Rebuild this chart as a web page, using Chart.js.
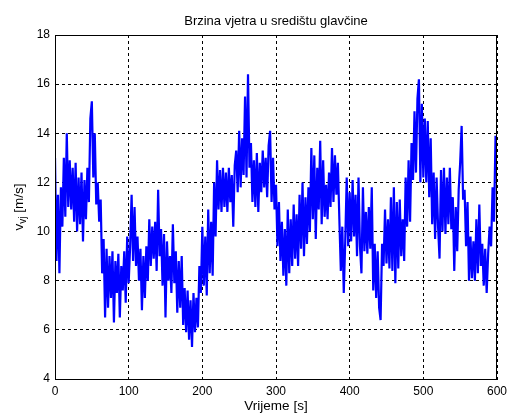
<!DOCTYPE html>
<html lang="hr">
<head>
    <meta charset="UTF-8">
    <title>Brzina vjetra u središtu glavčine</title>
    <script src="https://cdn.jsdelivr.net/npm/chart.js"></script>
    <style>
        body {
            margin: 0;
            padding: 0;
            background-color: #ffffff;
        }
        #okvir {
            width: 507px;
            height: 414px;
        }
    </style>
</head>
<body>

<div id="okvir">
    <canvas id="graf"></canvas>
</div>

<script>
    // vremenski korak uzorka [s]
    const korak = 2;

    // osi
    const xOznake = [0, 100, 200, 300, 400, 500, 600];
    const yOznake = [4, 6, 8, 10, 12, 14, 16, 18];

    // brzina vjetra [m/s], jedan uzorak svake 2 s (0 ... 600 s)
    const brzina = [
        13.0, 8.8, 11.5, 8.3, 11.8, 10.2, 13.0, 10.6, 14.0, 11.0,
        12.9, 10.9, 12.6, 10.4, 12.8, 10.0, 12.2, 10.3, 12.4, 9.6,
        12.1, 10.5, 12.6, 11.2, 14.6, 15.3, 12.2, 14.0, 11.1, 12.0,
        10.4, 11.3, 8.3, 9.7, 6.5, 9.3, 6.9, 9.0, 7.3, 9.2,
        6.3, 8.8, 7.5, 9.1, 6.5, 8.6, 7.6, 9.2, 7.1, 9.8,
        7.9, 9.4, 11.5, 8.8, 11.0, 8.6, 9.8, 8.0, 9.3, 6.8,
        9.0, 7.3, 9.4, 8.0, 10.5, 8.6, 10.2, 8.9, 10.4, 8.4,
        11.7, 9.0, 10.1, 7.8, 9.9, 6.5, 9.6, 8.0, 9.0, 7.5,
        10.3, 7.9, 9.2, 6.7, 8.8, 6.9, 9.0, 6.2, 7.7, 5.9,
        7.6, 5.6, 7.2, 5.3, 7.5, 5.9, 7.3, 6.1, 8.6, 7.5,
        10.2, 7.8, 9.8, 7.4, 10.9, 8.3, 10.4, 8.2, 12.0, 9.8,
        12.9, 10.9, 12.5, 10.8, 12.6, 11.0, 12.4, 10.8, 12.6, 11.2,
        12.3, 10.2, 12.7, 13.3, 11.6, 14.1, 11.8, 13.8, 12.3, 15.5,
        12.2, 16.4, 12.6, 13.6, 11.2, 12.9, 11.0, 13.2, 10.8, 12.8,
        11.6, 13.3, 11.8, 13.0, 11.4, 13.5, 14.1, 11.2, 13.0, 10.9,
        11.9, 9.4, 11.2, 8.8, 10.4, 8.2, 10.1, 7.8, 10.9, 8.3,
        10.5, 8.6, 11.1, 8.9, 10.7, 8.6, 11.5, 9.3, 12.0, 9.0,
        11.4, 9.5, 11.8, 10.0, 13.4, 10.5, 13.1, 9.7, 12.6, 10.9,
        13.7, 10.3, 12.9, 10.6, 11.9, 10.5, 12.4, 11.0, 13.4, 11.2,
        13.1, 11.5, 12.8, 10.5, 8.4, 10.2, 7.5, 9.6, 12.2, 9.4,
        11.6, 9.6, 12.1, 9.8, 11.5, 9.0, 12.2, 9.4, 8.3, 11.8,
        9.2, 10.8, 9.1, 11.0, 9.3, 11.8, 7.6, 9.5, 7.3, 9.2,
        6.9, 6.4, 9.5, 8.6, 10.9, 8.7, 10.5, 8.5, 11.4, 8.4,
        11.8, 7.9, 11.2, 8.5, 11.3, 9.0, 10.5, 8.8, 12.2, 10.2,
        12.9, 10.4, 13.6, 12.1, 14.9, 12.4, 15.4, 16.2, 12.0, 15.2,
        12.2, 14.6, 12.0, 14.5, 11.4, 13.8, 10.3, 12.4, 9.7, 12.2,
        10.2, 8.9, 12.5, 10.0, 12.6, 9.9, 12.2, 10.3, 12.6, 10.1,
        11.4, 8.4, 11.0, 9.2, 11.7, 12.8, 14.3, 11.3, 11.7, 9.4,
        11.2, 8.0, 9.8, 8.1, 9.6, 8.0, 10.5, 8.3, 11.1, 8.6,
        9.5, 7.8, 9.3, 7.5, 9.1, 10.2, 9.4, 11.8, 10.4, 13.9,
        12.9
    ];

    const naslov = 'Brzina vjetra u središtu glavčine';
    const xNaslov = 'Vrijeme [s]';

    const font = '"Liberation Sans", Arial, sans-serif';

    // točke za liniju
    const tocke = brzina.map((v, i) => ({ x: i * korak, y: v }));

    // okvir, naslov i oznake osi (MATLAB izgled)
    const dodaci = {
        id: 'dodaci',
        afterDraw(chart) {
            const ctx = chart.ctx;
            const a = chart.chartArea;
            ctx.save();

            // okvir oko grafa
            ctx.strokeStyle = '#000000';
            ctx.lineWidth = 1;
            ctx.strokeRect(Math.round(a.left) + 0.5, Math.round(a.top) + 0.5,
                Math.round(a.right - a.left) - 1, Math.round(a.bottom - a.top));

            ctx.fillStyle = '#000000';
            ctx.textAlign = 'center';
            ctx.textBaseline = 'middle';

            // naslov
            ctx.font = '13px ' + font;
            ctx.fillText(naslov, (a.left + a.right) / 2, 21);

            // naslov x osi
            ctx.font = '13.5px ' + font;
            ctx.fillText(xNaslov, (a.left + a.right) / 2, 406);

            // naslov y osi: v_vj [m/s]
            ctx.translate(19, (a.top + a.bottom) / 2);
            ctx.rotate(-Math.PI / 2);
            ctx.textAlign = 'left';
            const dio1 = 'v';
            const dio2 = 'vj';
            const dio3 = ' [m/s]';
            ctx.font = '13.5px ' + font;
            const s1 = ctx.measureText(dio1).width;
            const s3 = ctx.measureText(dio3).width;
            ctx.font = '10px ' + font;
            const s2 = ctx.measureText(dio2).width;
            let pos = -(s1 + s2 + s3) / 2;
            ctx.font = '13.5px ' + font;
            ctx.fillText(dio1, pos, 0);
            pos += s1;
            ctx.font = '10px ' + font;
            ctx.fillText(dio2, pos, 4);
            pos += s2;
            ctx.font = '13.5px ' + font;
            ctx.fillText(dio3, pos, 0);

            ctx.restore();
        }
    };

    const ctxGraf = document.getElementById('graf').getContext('2d');
    new Chart(ctxGraf, {
        type: 'line',
        data: {
            datasets: [{
                data: tocke,
                borderColor: '#0000ff',
                borderWidth: 2.2,
                pointRadius: 0,
                tension: 0,
                fill: false
            }]
        },
        options: {
            responsive: true,
            maintainAspectRatio: false,
            animation: false,
            layout: {
                autoPadding: false,
                padding: { left: 0, top: 35, right: 10, bottom: 0 }
            },
            plugins: {
                legend: { display: false },
                tooltip: { enabled: false }
            },
            scales: {
                x: {
                    type: 'linear',
                    min: 0,
                    max: 600,
                    afterFit: s => {
                        s.height = 35;
                        s.paddingLeft = 0;
                        s.paddingRight = 0;
                    },
                    afterBuildTicks: s => { s.ticks = xOznake.map(v => ({ value: v })); },
                    grid: {
                        color: '#000000',
                        lineWidth: 1,
                        tickLength: 0,
                        drawTicks: false
                    },
                    border: { display: true, color: '#000000', dash: [3, 3] },
                    ticks: {
                        color: '#000000',
                        padding: 5,
                        maxRotation: 0,
                        font: { family: font, size: 12 }
                    }
                },
                y: {
                    type: 'linear',
                    min: 4,
                    max: 18,
                    afterFit: s => {
                        s.width = 55;
                        s.paddingTop = 0;
                        s.paddingBottom = 0;
                    },
                    afterBuildTicks: s => { s.ticks = yOznake.map(v => ({ value: v })); },
                    grid: {
                        color: '#000000',
                        lineWidth: 1,
                        tickLength: 0,
                        drawTicks: false
                    },
                    border: { display: true, color: '#000000', dash: [3, 3] },
                    ticks: {
                        color: '#000000',
                        padding: 5,
                        font: { family: font, size: 12 }
                    }
                }
            }
        },
        plugins: [dodaci]
    });
</script>

</body>
</html>
